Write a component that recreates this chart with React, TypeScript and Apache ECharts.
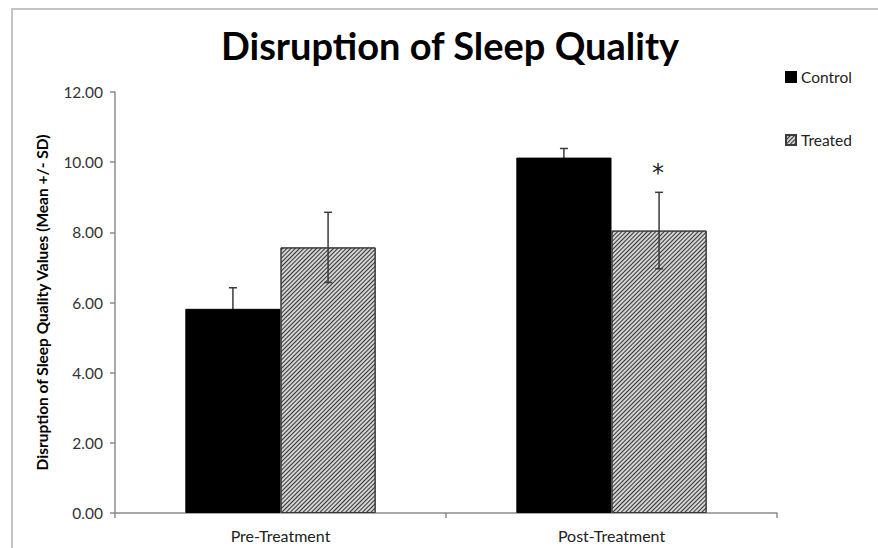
import React, { useEffect, useRef } from "react";
import * as echarts from "echarts";

const categories = ["Pre-Treatment", "Post-Treatment"];
const controlMean = [5.82, 10.13];
const controlSD = [0.6, 0.26];
const treatedMean = [7.57, 8.05];
const treatedSD = [1.0, 1.09];
const significance = ["", "*"];
const yAxisMin = 0;
const yAxisMax = 12;
const yAxisStep = 2;

const FONT = "Lato";
const CAT_GAP = 0.425;

function errorSeries(name: string, means: number[], sds: number[], side: number, marks: string[], z: number) {
  return {
    type: "custom",
    name: name + " SD",
    coordinateSystem: "cartesian2d",
    silent: true,
    z: z,
    data: means.map((m, i) => [i, m - sds[i], m + sds[i]]),
    renderItem: (params: any, api: any) => {
      const ci = api.value(0);
      const lo = api.coord([ci, api.value(1)]);
      const hi = api.coord([ci, api.value(2)]);
      const catW = api.size([1, 0])[0];
      const x = lo[0] + side * (catW * (1 - CAT_GAP)) / 4;
      const cap = 4;
      const st = { stroke: "#3a3a3a", lineWidth: 1.5 };
      const children: any[] = [
        { type: "line", shape: { x1: x, y1: lo[1], x2: x, y2: hi[1] }, style: st },
        { type: "line", shape: { x1: x - cap, y1: lo[1], x2: x + cap, y2: lo[1] }, style: st },
        { type: "line", shape: { x1: x - cap, y1: hi[1], x2: x + cap, y2: hi[1] }, style: st },
      ];
      const mark = marks[params.dataIndex];
      if (mark) {
        children.push({
          type: "text",
          style: {
            text: mark,
            x: x - 1,
            y: hi[1] - 19,
            align: "center",
            verticalAlign: "middle",
            fontSize: 24,
            fontFamily: "DejaVu Sans",
            fill: "#222",
          },
        });
      }
      return { type: "group", children };
    },
  };
}

export default function App() {
  const ref = useRef<HTMLDivElement>(null);
  useEffect(() => {
    if (!ref.current) return;
    const chart = echarts.init(ref.current, null, { renderer: "svg" });
    chart.setOption({
      animation: false,
      backgroundColor: "#fff",
      title: {
        text: "Disruption of Sleep Quality",
        left: 445,
        top: 21,
        textAlign: "center",
        textStyle: { fontFamily: FONT, fontWeight: "bold", fontSize: 38, color: "#000" },
      },
      graphic: [
        {
          type: "rect",
          silent: true,
          shape: { x: 12, y: 9, width: 900, height: 600 },
          style: { fill: "none", stroke: "#c4c4c4", lineWidth: 2 },
        },
      ],
      legend: {
        orient: "vertical",
        left: 780,
        top: 64,
        itemGap: 47,
        itemWidth: 10,
        itemHeight: 10,
        icon: "rect",
        data: ["Control", "Treated"],
        textStyle: { fontFamily: FONT, fontSize: 15.5, color: "#222", lineHeight: 14 },
      },
      grid: { left: 115, right: 101, top: 92, bottom: 35, containLabel: false },
      xAxis: {
        type: "category",
        data: categories,
        axisLine: { lineStyle: { color: "#8c8c8c", width: 1.5 } },
        axisTick: { show: true, length: 5, lineStyle: { color: "#8c8c8c", width: 1.5 } },
        axisLabel: { fontFamily: FONT, fontSize: 16, color: "#222", margin: 14 },
      },
      yAxis: {
        type: "value",
        name: "Disruption of Sleep Quality Values (Mean +/- SD)",
        nameLocation: "middle",
        nameGap: 65,
        nameTextStyle: { fontFamily: FONT, fontWeight: "bold", fontSize: 15.5, color: "#000" },
        min: yAxisMin,
        max: yAxisMax,
        interval: yAxisStep,
        axisLine: { show: true, lineStyle: { color: "#8c8c8c", width: 1.5 } },
        axisTick: { show: true, length: 5, lineStyle: { color: "#8c8c8c", width: 1.5 } },
        splitLine: { show: false },
        axisLabel: {
          fontFamily: FONT,
          fontSize: 15.5,
          color: "#333",
          margin: 12,
          formatter: (v: number) => v.toFixed(2),
        },
      },
      series: [
        {
          type: "bar",
          name: "Control",
          data: controlMean,
          z: 2,
          barGap: "0%",
          barCategoryGap: CAT_GAP * 100 + "%",
          itemStyle: { color: "#000", borderColor: "#000", borderWidth: 1 },
        },
        {
          type: "bar",
          name: "Treated",
          data: treatedMean,
          z: 2,
          barGap: "0%",
          barCategoryGap: CAT_GAP * 100 + "%",
          itemStyle: {
            color: "#d4d4d4",
            borderColor: "#3a3a3a",
            borderWidth: 1,
            decal: {
              symbol: "rect",
              symbolSize: 1,
              color: "#333",
              dashArrayX: [1, 0],
              dashArrayY: [1, 1.2],
              rotation: -Math.PI / 4,
            },
          },
        },
        errorSeries("Control", controlMean, controlSD, -1, ["", ""], 1),
        errorSeries("Treated", treatedMean, treatedSD, 1, significance, 5),
      ],
    });
    return () => chart.dispose();
  }, []);
  return (
    <div
      ref={ref}
      style={{ position: "absolute", left: 0, top: 0, width: 878, height: 548 }}
    />
  );
}
